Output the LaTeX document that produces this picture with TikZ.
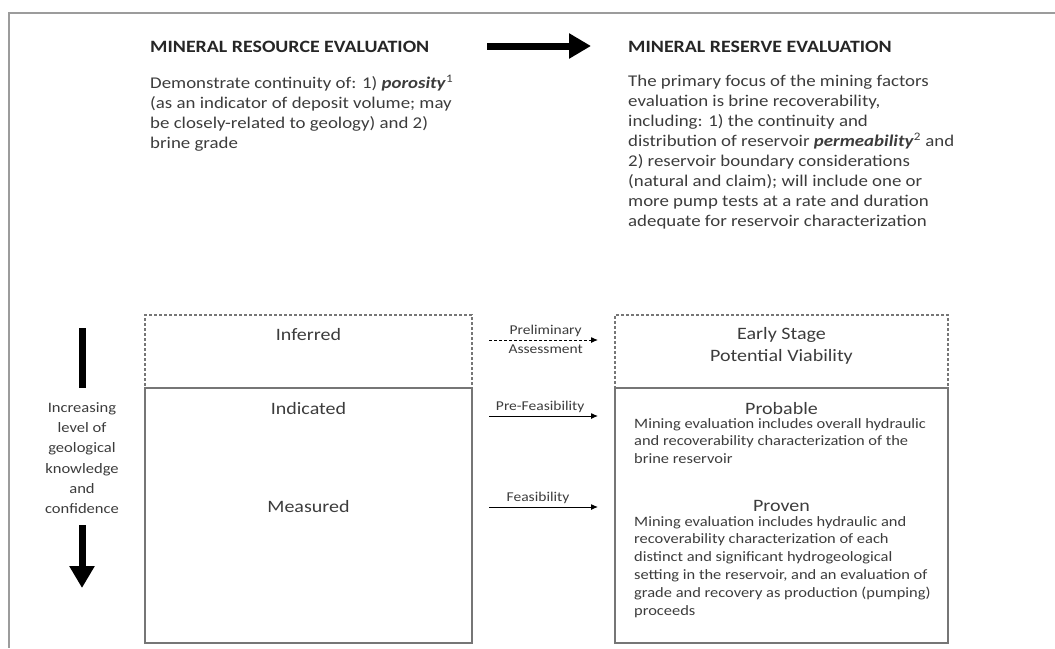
\documentclass[tikz,border=0pt]{standalone}
\usepackage{fontspec}
\setmainfont{Carlito}[FakeStretch=1.15]
\usetikzlibrary{arrows.meta,positioning}
\definecolor{txt}{HTML}{3C3C3C}
\definecolor{frm}{HTML}{9C9C9C}
\definecolor{edge}{HTML}{767676}

\begin{document}
\begin{tikzpicture}[x=1pt, y=-1pt,
  hdr/.style = {font=\fontsize{17.3}{20}\selectfont\bfseries, text=black!85, inner sep=0pt, anchor=west},
  para/.style = {font=\fontsize{16.4}{20}\selectfont, text=txt, align=left, anchor=north west, inner sep=0pt},
  note/.style = {font=\fontsize{14.3}{17.8}\selectfont, text=txt, align=left, anchor=north west, inner sep=0pt},
  lbl/.style = {font=\fontsize{17.4}{22}\selectfont, text=txt, align=center, inner sep=0pt},
  tag/.style = {font=\fontsize{13.5}{20.3}\selectfont, text=txt, align=center, inner sep=0pt},
  side/.style = {tag, font=\fontsize{14.4}{20.3}\selectfont},
  solidbox/.style = {draw=edge, line width=1.4pt, minimum width=327pt, inner sep=0pt},
  dashbox/.style = {solidbox, dash pattern=on 3pt off 2pt},
  fat/.style = {line width=7pt, -{Triangle[length=22pt,width=24pt]}},
  link/.style = {line width=1pt, -{Latex[length=7pt,width=6pt]}},
]
\useasboundingbox (0,0) rectangle (1055,648);
\draw[frm, line width=2.5pt] (1055,13) -- (9,13) -- (9,648);

% headings
\node[hdr] (reshdr) at (150,47) {MINERAL RESOURCE EVALUATION};
\node[hdr] (rsvhdr) at (628,47) {MINERAL RESERVE EVALUATION};
\coordinate (big0) at (487,46);
\coordinate (big1) at (591,46);
\draw[fat] (big0) -- (big1);

\node[para] (respara) at (150,75) {Demonstrate continuity of: 1) \textbf{\textit{porosity}}\textsuperscript{1}\\(as an indicator of deposit volume; may\\be closely-related to geology) and 2)\\brine grade};
\node[para] (rsvpara) at (628,75) {The primary focus of the mining factors\\evaluation is brine recoverability,\\including: 1) the continuity and\\distribution of reservoir \textbf{\textit{permeability}}\textsuperscript{2} and\\2) reservoir boundary considerations\\(natural and claim); will include one or\\more pump tests at a rate and duration\\adequate for reservoir characterization};

% resource boxes
\node[dashbox, minimum height=73pt] (inf) at (308.5,351.5) {};
\node[solidbox, minimum height=255pt] (msr) at (308.5,515.5) {};
\node[lbl] (infl) at (308.5,335) {Inferred};
\node[lbl] (indl) at (308.5,409) {Indicated};
\node[lbl] (msrl) at (308.5,507) {Measured};

% reserve boxes
\node[dashbox, minimum width=333pt, minimum height=73pt] (early) at (781.5,351.5) {};
\node[solidbox, minimum width=333pt, minimum height=255pt] (prv) at (781.5,515.5) {};
\node[lbl] (earlyl) at (781.5,346) {Early Stage\\Potential Viability};
\node[lbl] (prbl) at (781.5,409) {Probable};
\node[note] (prbn) at (634,418) {Mining evaluation includes overall hydraulic\\and recoverability characterization of the\\brine reservoir};
\node[lbl] (prvl) at (781.5,506) {Proven};
\node[note] (prvn) at (634,516) {Mining evaluation includes hydraulic and\\recoverability characterization of each\\distinct and significant hydrogeological\\setting in the reservoir, and an evaluation of\\grade and recovery as production (pumping)\\proceeds};

% study arrows
\coordinate (pa0) at (489,340);
\coordinate (pa1) at (598,340);
\coordinate (pf0) at (489,416);
\coordinate (pf1) at (598,416);
\coordinate (fs0) at (489,507);
\coordinate (fs1) at (598,507);
\draw[link, dash pattern=on 3pt off 2pt] (pa0) -- node[tag, pos=0.52, above=3pt] {Preliminary} node[tag, pos=0.52, below=4pt] {Assessment} (pa1);
\draw[link] (pf0) -- node[tag, pos=0.47, above=3pt] {Pre-Feasibility} (pf1);
\draw[link] (fs0) -- node[tag, pos=0.45, above=3pt] {Feasibility} (fs1);

% confidence arrow
\coordinate (bar0) at (82,328);
\coordinate (bar1) at (82,388);
\draw[line width=7pt] (bar0) -- (bar1);
\node[side] (conf) at (82,458) {Increasing\\level of\\geological\\knowledge\\and\\confidence};
\coordinate (dn0) at (82,525);
\coordinate (dn1) at (82,588);
\draw[fat] (dn0) -- (dn1);
\end{tikzpicture}
\end{document}
